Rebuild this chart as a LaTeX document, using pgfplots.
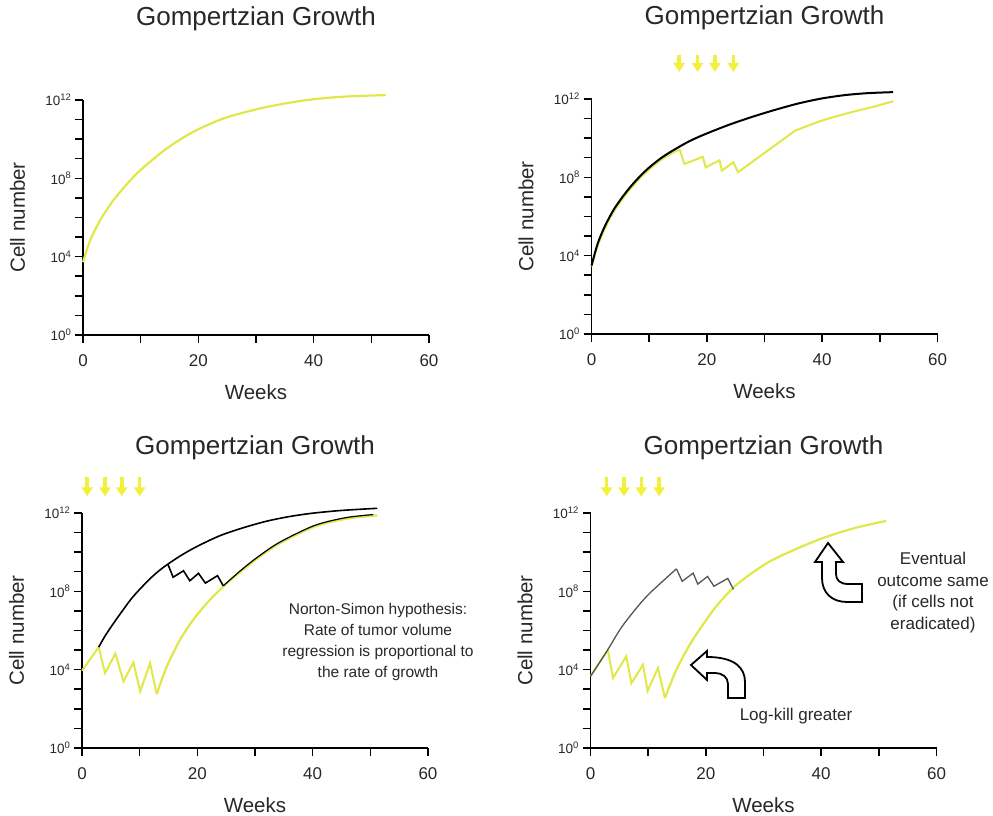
\documentclass[border=0pt]{standalone}
\usepackage{fontspec}
\setmainfont{Liberation Sans}
\usepackage{pgfplots}
\pgfplotsset{compat=1.18}
\usetikzlibrary{arrows.meta}

\definecolor{ylw}{RGB}{224,232,72}
\definecolor{arr}{RGB}{242,240,60}
\definecolor{gr}{RGB}{85,85,85}
\definecolor{txt}{RGB}{40,40,40}

\pgfplotsset{gp/.style={
  width=346pt, height=235pt, scale only axis, anchor=south west,
  xmin=0,xmax=60,ymin=0,ymax=12,
  axis x line*=bottom, axis y line*=left,
  axis line style={line width=1.5pt,-},
  xtick={0,20,40,60}, xticklabels={0,20,40,60}, minor xtick={10,30,50},
  ytick={0,4,8,12},
  yticklabels={10\textsuperscript{0},10\textsuperscript{4},10\textsuperscript{8},10\textsuperscript{12}},
  minor ytick={1,2,3,5,6,7,9,10,11},
  tick align=outside,
  major tick length=8pt, minor tick length=8pt,
  every tick/.append style={line width=1.5pt,black},
  xticklabel style={font=\fontsize{17}{19}\selectfont, text=txt, yshift=-8pt},
  yticklabel style={font=\fontsize{13.5}{15}\selectfont, text=txt},
  title={Gompertzian Growth},
  title style={font=\fontsize{26}{30}\selectfont, text=txt, at={(axis description cs:0.5,1)}, anchor=base},
  xlabel={Weeks},
  xlabel style={font=\fontsize{20.5}{24}\selectfont, text=txt, at={(axis description cs:0.5,0)}, anchor=base, yshift=-65pt},
  ylabel={Cell number},
  ylabel style={font=\fontsize{20.5}{24}\selectfont, text=txt, at={(axis description cs:-0.189,0.5)}, anchor=center},
  clip=false,
}}

\begin{document}
\begin{tikzpicture}[x=1pt,y=1pt]
\useasboundingbox (0,0) rectangle (993,816);

% ---------------- Panel 1 ----------------
\begin{axis}[gp, at={(83pt,481pt)}, title style={yshift=68pt}]
\addplot[ylw, line width=2.2pt, smooth] coordinates {
(0,3.72) (1.27,4.85) (3,5.87) (5.3,6.89) (8.2,7.9) (10.1,8.46) (14,9.41) (16.9,9.99) (19.9,10.49) (24.4,11.06) (30,11.52) (35.4,11.84) (40.3,12.05) (45.8,12.18) (52.5,12.25)};
\end{axis}

% ---------------- Panel 2 ----------------
\begin{axis}[gp, at={(591.5pt,482pt)}, title style={yshift=68pt}]
\addplot[ylw, line width=2pt, smooth] coordinates {
(0,3.45) (1,4.45) (2,5.18) (3,5.8) (4,6.32) (5.5,6.95) (7,7.5) (8.5,7.98) (10,8.4) (12,8.88) (14,9.24) (15.3,9.42)};
\addplot[ylw, line width=2pt] coordinates {
(15.3,9.42) (16.1,8.68) (19.3,9.05) (19.8,8.51) (22.2,8.87) (22.6,8.34) (24.6,8.77) (25.4,8.26) (35.3,10.38)};
\addplot[ylw, line width=2pt, smooth] coordinates {
(35.3,10.38) (40,10.9) (45,11.32) (48.6,11.58) (52.3,11.88)};
\addplot[black, line width=2pt, smooth] coordinates {
(0,3.49) (1,4.55) (2,5.3) (3,5.9) (4,6.42) (5.5,7.05) (7,7.6) (8.5,8.08) (10,8.5) (12,8.97) (14,9.35) (17,9.85) (20,10.24) (24,10.7) (28,11.1) (32,11.46) (36,11.78) (40,12.03) (44,12.2) (48,12.3) (52.3,12.35)};
\foreach \w in {15.2,18.4,21.4,24.6}{
  \edef\tmp{\noexpand\draw[arr, line width=3.5pt, -{Triangle[width=11pt,length=9pt]}] (axis cs:\w,14.25) -- (axis cs:\w,13.38);}
  \tmp
}
\end{axis}

% ---------------- Panel 3 ----------------
\begin{axis}[gp, at={(82pt,68pt)}, title style={yshift=52pt}]
\addplot[ylw, line width=2pt] coordinates {
(0,3.95) (2.9,5.15) (4.0,3.83) (5.8,4.82) (7.2,3.40) (8.9,4.37) (10.1,2.89) (11.8,4.34) (12.95,2.75)};
\addplot[ylw, line width=2.2pt, smooth] coordinates {
(12.95,2.75) (14.65,4.12) (16.95,5.5) (19.3,6.55) (21.6,7.38) (24.5,8.25) (27.5,9.0) (30.5,9.7) (34.3,10.45) (40.3,11.3) (45.7,11.7) (51.2,11.88)};
\addplot[black, line width=1.6pt, smooth] coordinates {
(2.9,5.15) (4,5.72) (5.5,6.38) (7,7.0) (8.5,7.6) (10,8.1) (12,8.7) (14,9.2) (17,9.8) (20,10.3) (24,10.85) (28,11.25) (32,11.58) (36,11.82) (40,11.99) (45,12.13) (51.2,12.24)};
\addplot[black, line width=1.6pt] coordinates {
(14.9,9.38) (15.8,8.72) (17.6,9.05) (18.7,8.54) (20.2,8.92) (21.4,8.42) (23.5,8.80) (24.5,8.28)};
\addplot[black, line width=1.2pt, smooth] coordinates {
(24.5,8.28) (27.5,9.06) (30.5,9.76) (34.3,10.51) (40.3,11.36) (45.7,11.76) (50.5,11.92)};
\foreach \w in {0.9,4.0,6.9,10.0}{
  \edef\tmp{\noexpand\draw[arr, line width=3.5pt, -{Triangle[width=11pt,length=9pt]}] (axis cs:\w,13.84) -- (axis cs:\w,12.85);}
  \tmp
}
\end{axis}

% ---------------- Panel 4 ----------------
\begin{axis}[gp, at={(590.5pt,68pt)}, title style={yshift=52pt}]
\addplot[ylw, line width=2pt] coordinates {
(0,3.66) (3.0,5.0) (3.9,3.57) (6.2,4.68) (7.1,3.31) (9.1,4.25) (9.9,2.91) (11.7,4.09) (12.9,2.55)};
\addplot[ylw, line width=2.2pt, smooth] coordinates {
(12.9,2.55) (14.9,4.0) (17.2,5.27) (19.5,6.3) (21.8,7.23) (24.7,8.17) (27.6,8.85) (31.1,9.53) (35.4,10.13) (40.3,10.72) (45.8,11.23) (51.3,11.6)};
\addplot[gr, line width=1.3pt, smooth] coordinates {
(0,3.66) (3.0,5.02) (5.3,6.13) (8.2,7.23) (10.3,7.91) (13.4,8.75) (14.9,9.15)};
\addplot[gr, line width=1.3pt] coordinates {
(14.9,9.15) (15.9,8.51) (17.8,8.93) (18.6,8.37) (20.3,8.76) (21.4,8.26) (23.8,8.66) (24.8,8.1)};
\foreach \w in {2.8,5.8,8.8,11.9}{
  \edef\tmp{\noexpand\draw[arr, line width=3.5pt, -{Triangle[width=11pt,length=9pt]}] (axis cs:\w,13.84) -- (axis cs:\w,12.85);}
  \tmp
}
\end{axis}

% ---------------- Annotations ----------------
\node[align=center, font=\fontsize{15.5}{21}\selectfont, text=txt] at (378,174)
  {Norton-Simon hypothesis:\\Rate of tumor volume\\regression is proportional to\\the rate of growth};
\node[align=center, font=\fontsize{17}{21.7}\selectfont, text=txt] at (933,223.5)
  {Eventual\\outcome same\\(if cells not\\eradicated)};
\node[font=\fontsize{17}{20}\selectfont, text=txt] at (796,100) {Log-kill greater};

% hollow bent arrow (left-pointing)
\draw[line width=1.8pt, fill=white, line join=miter]
  (691,151) -- (707,165) -- (707,159) .. controls (735,159) and (745,148) .. (745,134)
  -- (745,118) -- (728,118) -- (728,132) .. controls (728,139) and (722,143) .. (715,143)
  -- (707,143) -- (707,136) -- cycle;
% hollow bent arrow (up-pointing)
\draw[line width=1.8pt, fill=white, line join=miter]
  (828,273) -- (815,254) -- (822,254) -- (822,238) .. controls (822,223) and (832,214) .. (847,214)
  -- (862,214) -- (862,232) -- (848,232) .. controls (840,232) and (836,236) .. (836,242)
  -- (836,254) -- (843,254) -- cycle;
\end{tikzpicture}
\end{document}
